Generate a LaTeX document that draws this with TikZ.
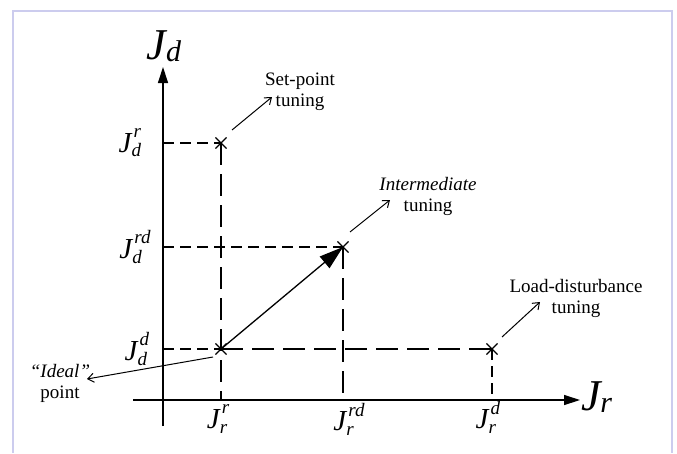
\documentclass[tikz,border=0pt]{standalone}
\usepackage{fontspec}
\setmainfont{Liberation Serif}
\usetikzlibrary{arrows.meta,shapes.misc}
\definecolor{framecol}{RGB}{204,204,238}
\newcommand\supfont{\fontsize{19}{19}\selectfont}
\newcommand\Jsd[2]{\textit{J}\kern1pt\ooalign{\raisebox{0.5em}{\supfont\textit{#1}}\cr\kern-2pt\raisebox{-0.16em}{\supfont\textit{#2}}\cr}}
\newcommand\Jax[1]{\textit{J}\kern-2pt\raisebox{-0.05em}{\fontsize{30}{30}\selectfont\textit{#1}}}
\begin{document}
\begin{tikzpicture}[x=1pt,y=-1pt,
  axis/.style={line width=1.3pt,-{Triangle[length=16pt,width=10pt]}},
  guide/.style={line width=2.6pt,dash pattern=on 11pt off 6pt},
  guidelong/.style={line width=2.6pt,dash pattern=on 22pt off 9pt},
  pointer/.style={line width=1pt,-{Straight Barb[length=6pt,width=9pt]}},
  xmark/.style={draw,cross out,minimum size=10pt,inner sep=0pt,line width=1.1pt},
  tick/.style={font=\fontsize{29}{31}\selectfont,inner sep=0pt},
  axlab/.style={font=\fontsize{44}{44}\selectfont,inner sep=0pt},
  note/.style={font=\fontsize{19}{21}\selectfont,align=center,inner sep=0pt}]
\useasboundingbox (0,0) rectangle (677,453);
\draw[framecol,line width=1.2pt] (13,453) -- (13,11) -- (672,11) -- (672,453);
% axes
\coordinate (ybot) at (163,426);
\coordinate (ytip) at (163,67);
\coordinate (xleft) at (133,400);
\coordinate (xtip) at (580,400);
\draw[axis] (ybot) -- (ytip);
\draw[axis] (xleft) -- (xtip);
\node[axlab] (Jd) at (164,46) {\Jax{d}};
\node[axlab,anchor=west] (Jr) at (581,397) {\Jax{r}};
% points
\node[xmark] (pr) at (221,143) {};
\node[xmark] (pm) at (343,247) {};
\node[xmark] (pi) at (221,349) {};
\node[xmark] (pd) at (492,349) {};
% axis feet
\coordinate (ar) at (163,143);
\coordinate (am) at (163,247);
\coordinate (ai) at (163,349);
\coordinate (br) at (221,400);
\coordinate (bm) at (343,400);
\coordinate (bd) at (492,400);
% guides
\draw[guide] (ar) -- (pr.center);
\draw[guidelong] (pr.center) -- (br);
\draw[guide] (am) -- (pm.center);
\draw[guidelong] (pm.center) -- (bm);
\draw[guide] (ai) -- (pi.center);
\draw[guidelong] (pi.center) -- (pd.center);
\draw[guide] (pd.center) -- (bd);
% main arrow
\draw[line width=1.3pt,-{Triangle[length=24pt,width=15pt]}] (pi.center) -- (pm.center);
% tick labels
\node[tick] (tdr) at (130,143) {\Jsd{r}{d}};
\node[tick] (tdm) at (135,247) {\Jsd{rd}{d}};
\node[tick] (tdd) at (137,349) {\Jsd{d}{d}};
\node[tick] (trr) at (218,419) {\Jsd{r}{r}};
\node[tick] (trm) at (349,419) {\Jsd{rd}{r}};
\node[tick] (trd) at (488,417) {\Jsd{d}{r}};
% notes
\node[note] (nset) at (300,92) {Set-point\\tuning};
\node[note] (nint) at (428,196) {\textit{Intermediate}\\tuning};
\node[note] (nload) at (576,298) {Load-disturbance\\tuning};
\node[note] (nideal) at (60,383) {\textit{“Ideal”}\\point};
\coordinate (s1) at (232,130);
\coordinate (s2) at (272,97);
\coordinate (m1) at (350,232);
\coordinate (m2) at (390,200);
\coordinate (l1) at (502,337);
\coordinate (l2) at (540,302);
\coordinate (i1) at (213,357);
\coordinate (i2) at (87,379);
\draw[pointer] (s1) -- (s2);
\draw[pointer] (m1) -- (m2);
\draw[pointer] (l1) -- (l2);
\draw[pointer] (i1) -- (i2);
\end{tikzpicture}
\end{document}
